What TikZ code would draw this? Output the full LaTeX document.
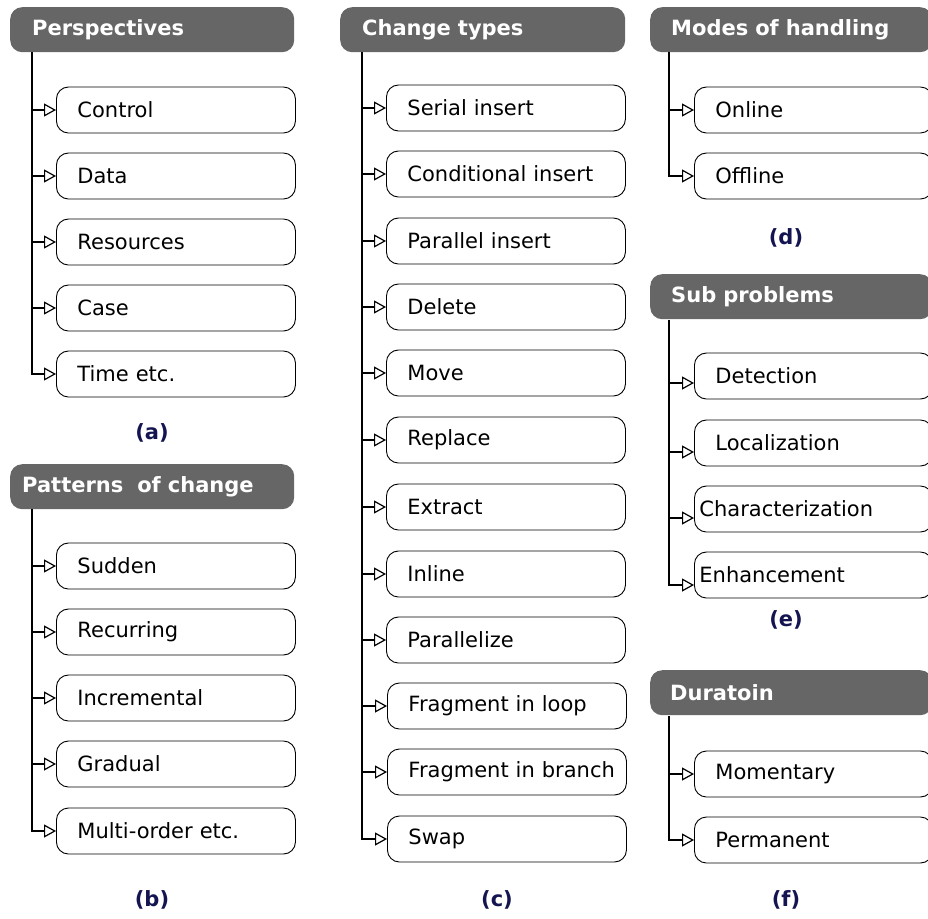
\documentclass[tikz,border=0pt]{standalone}
\usepackage{fontspec}
\setmainfont{DejaVu Sans}
\usetikzlibrary{arrows.meta}
\definecolor{hdr}{RGB}{102,102,102}
\definecolor{cap}{RGB}{20,20,80}
\tikzset{
  hdrbox/.style={rounded corners=12pt, fill=hdr, text=white, font=\fontsize{21}{25}\selectfont\bfseries,
    minimum height=45pt, inner xsep=10pt, align=left, anchor=north west},
  itembox/.style={draw=black, line width=0.9pt, rounded corners=12pt, fill=white,
    font=\fontsize{21}{25}\selectfont, minimum height=46pt, inner xsep=4pt, align=left, anchor=west},
  conn/.style={line width=1.2pt, -{Triangle[open, length=12pt, width=13pt]}},
  captxt/.style={text=cap, font=\fontsize{21}{25}\selectfont\bfseries},
}
\begin{document}
\begin{tikzpicture}[x=1pt,y=-1pt]
\useasboundingbox (0,0) rectangle (928,918);
% (a)
\node[hdrbox, text width=264pt] (ha) at (10,7) {\hspace*{12pt}Perspectives};
\coordinate (la) at (32,52);
\foreach \n/\t/\y in {a1/Control/110, a2/Data/176, a3/Resources/242, a4/Case/308, a5/Time etc./374}{
  \node[itembox, text width=231pt] (\n) at (56,\y) {\hspace*{17pt}\t};
  \draw[conn] (la) |- (\n.west);
}
\node[captxt] (capa) at (152,433) {(a)};
% (b)
\node[hdrbox, text width=264pt] (hb) at (10,464) {\hspace*{2pt}Patterns\ \ of change};
\coordinate (lb) at (32,509);
\foreach \n/\t/\y in {b1/Sudden/566, b2/Recurring/632, b3/Incremental/698, b4/Gradual/764, b5/Multi-order etc./831}{
  \node[itembox, text width=231pt] (\n) at (56,\y) {\hspace*{17pt}\t};
  \draw[conn] (lb) |- (\n.west);
}
\node[captxt] (capb) at (152,900) {(b)};
% (c)
\node[hdrbox, text width=265pt] (hc) at (340,7) {\hspace*{12pt}Change types};
\coordinate (lc) at (362,52);
\foreach \n/\t/\y in {c1/Serial insert/108, c2/Conditional insert/174, c3/Parallel insert/241, c4/Delete/307, c5/Move/373, c6/Replace/440, c7/Extract/507, c8/Inline/574, c9/Parallelize/640}{
  \node[itembox, text width=231pt] (\n) at (386,\y) {\hspace*{17pt}\t};
  \draw[conn] (lc) |- (\n.west);
}
\foreach \n/\t/\y in {c10/Fragment in loop/706, c11/Fragment in branch/772, c12/Swap/839}{
  \node[itembox, text width=231pt] (\n) at (387,\y) {\hspace*{17pt}\t};
  \draw[conn] (lc) |- (\n.west);
}
\node[captxt] (capc) at (497,900) {(c)};
% (d)
\node[hdrbox, text width=262pt] (hd) at (650,7) {\hspace*{11pt}Modes of handling};
\coordinate (ld) at (669,52);
\foreach \n/\t/\y in {d1/Online/110, d2/Offline/176}{
  \node[itembox, text width=230pt] (\n) at (694,\y) {\hspace*{17pt}\t};
  \draw[conn] (ld) |- (\n.west);
}
\node[captxt] (capd) at (786,238) {(d)};
% (e)
\node[hdrbox, text width=262pt] (he) at (650,274) {\hspace*{11pt}Sub problems};
\coordinate (le) at (669,320);
\node[itembox, text width=230pt] (e1) at (694,376) {\hspace*{17pt}Detection};
\node[itembox, text width=230pt] (e2) at (694,443) {\hspace*{17pt}Localization};
\node[itembox, text width=230pt] (e3) at (694,509) {\hspace*{1pt}Characterization};
\node[itembox, text width=230pt] (e4) at (694,575) {\hspace*{1pt}Enhancement};
\draw[conn] (le) |- ([yshift=-7pt]e1.west);
\draw[conn] (le) |- ([yshift=-9pt]e2.west);
\draw[conn] (le) |- ([yshift=-9pt]e3.west);
\draw[conn] (le) |- ([yshift=-10pt]e4.west);
\node[captxt] (cape) at (786,620) {(e)};
% (f)
\node[hdrbox, text width=262pt] (hf) at (650,670) {\hspace*{10pt}Duratoin};
\coordinate (lf) at (669,716);
\foreach \n/\t/\y in {f1/Momentary/774, f2/Permanent/840}{
  \node[itembox, text width=230pt] (\n) at (694,\y) {\hspace*{17pt}\t};
  \draw[conn] (lf) |- (\n.west);
}
\node[captxt] (capf) at (786,900) {(f)};
\end{tikzpicture}
\end{document}
